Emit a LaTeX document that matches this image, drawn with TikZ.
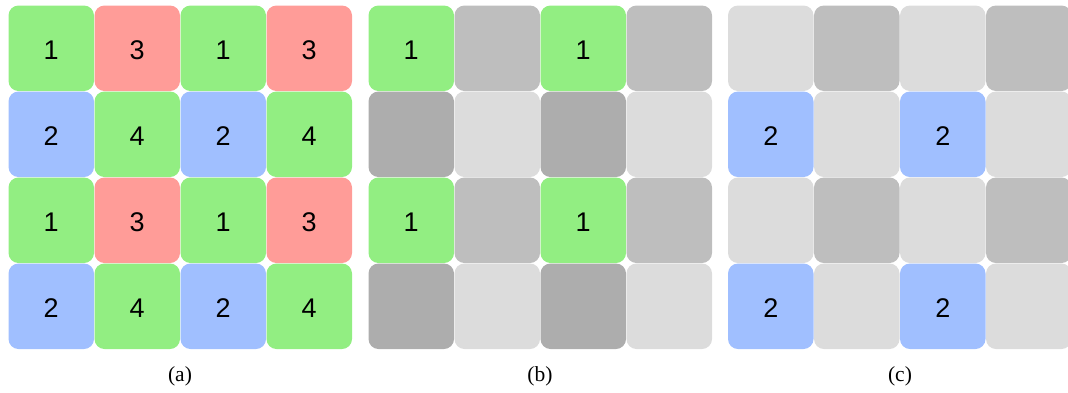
\documentclass[tikz,border=0pt]{standalone}
\usepackage{fontspec}
\setmainfont{Liberation Serif}
\newfontfamily\digitfont{Liberation Sans}
\definecolor{cgreen}{HTML}{92EE82}
\definecolor{cred}{HTML}{FF9C98}
\definecolor{cblue}{HTML}{A0BFFF}
\definecolor{gmid}{HTML}{BEBEBE}
\definecolor{gdark}{HTML}{ADADAD}
\definecolor{glight}{HTML}{DCDCDC}
\tikzset{
  cell/.style={draw=none, rounded corners=10pt, minimum width=85.5pt, minimum height=85.5pt,
    inner sep=0pt, font=\digitfont\fontsize{27}{27}\selectfont, text=black},
  digit/.style={inner sep=0pt, font=\digitfont\fontsize{27}{27}\selectfont, text=black},
  caption/.style={font=\fontsize{21.5}{22}\selectfont, inner sep=0pt},
}
\begin{document}
\begin{tikzpicture}[x=1pt,y=-1pt]
\useasboundingbox (0,0) rectangle (1068,392);
\clip (0,0) rectangle (1068,392);
% grid (a): colour pattern
\foreach \r/\cA/\tA/\cB/\tB in {0/cgreen/1/cred/3, 1/cblue/2/cgreen/4, 2/cgreen/1/cred/3, 3/cblue/2/cgreen/4}{
  \foreach \c in {0,2}{
    \pgfmathtruncatemacro{\cc}{\c+1}
    \node[cell, fill=\cA] (a-\r-\c) at ({8.5+42.75+86*\c},{5.5+42.75+86*\r}) {};
    \node[digit] at ([yshift=-2pt]a-\r-\c.center) {\tA};
    \node[cell, fill=\cB] (a-\r-\cc) at ({8.5+42.75+86*(\c+1)},{5.5+42.75+86*\r}) {};
    \node[digit] at ([yshift=-2pt]a-\r-\cc.center) {\tB};
  }
}
% grid (b): the 1 cells
\foreach \r/\cA/\tA/\cB in {0/cgreen/1/gmid, 1/gdark//glight, 2/cgreen/1/gmid, 3/gdark//glight}{
  \foreach \c in {0,2}{
    \pgfmathtruncatemacro{\cc}{\c+1}
    \node[cell, fill=\cA] (b-\r-\c) at ({368.5+42.75+86*\c},{5.5+42.75+86*\r}) {};
    \node[digit] at ([yshift=-2pt]b-\r-\c.center) {\tA};
    \node[cell, fill=\cB] (b-\r-\cc) at ({368.5+42.75+86*(\c+1)},{5.5+42.75+86*\r}) {};
  }
}
% grid (c): the 2 cells
\foreach \r/\cA/\tA/\cB in {0/glight//gmid, 1/cblue/2/glight, 2/glight//gmid, 3/cblue/2/glight}{
  \foreach \c in {0,2}{
    \pgfmathtruncatemacro{\cc}{\c+1}
    \node[cell, fill=\cA] (c-\r-\c) at ({728+42.75+86*\c},{5.5+42.75+86*\r}) {};
    \node[digit] at ([yshift=-2pt]c-\r-\c.center) {\tA};
    \node[cell, fill=\cB] (c-\r-\cc) at ({728+42.75+86*(\c+1)},{5.5+42.75+86*\r}) {};
  }
}
\node[caption] (capa) at (180,376) {(a)};
\node[caption] (capb) at (540,376) {(b)};
\node[caption] (capc) at (900,376) {(c)};
\end{tikzpicture}
\end{document}
